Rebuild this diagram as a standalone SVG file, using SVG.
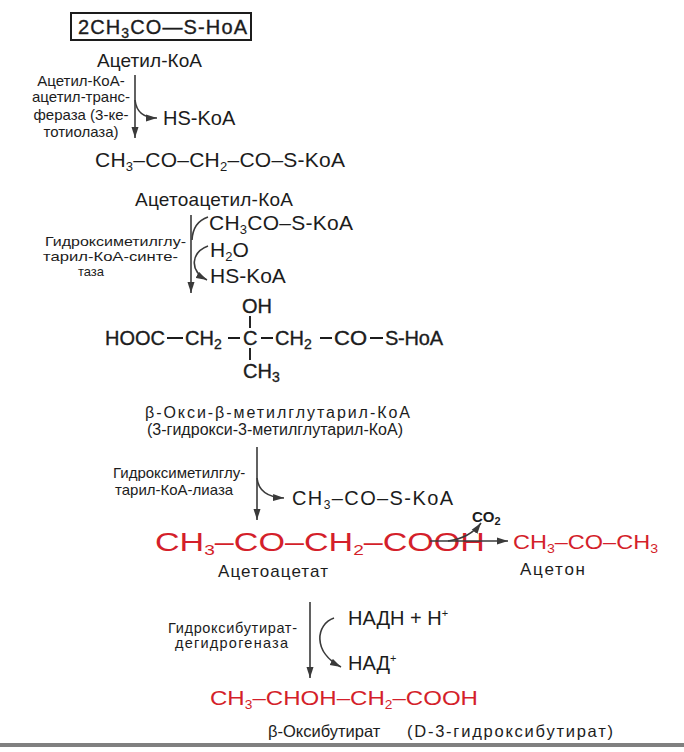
<svg xmlns="http://www.w3.org/2000/svg" width="684" height="752" viewBox="0 0 684 752">
<defs>
<style>
.t{font-family:"Liberation Sans",Arial,sans-serif;fill:#1c1c1c}
.r{fill:#d41f2b}
.th{stroke:#1c1c1c;stroke-width:0.35}
.ln{stroke:#3a3a3a;stroke-width:1.6;fill:none}
.bd{stroke:#1c1c1c;stroke-width:1.9;fill:none}
</style>
<marker id="ah" markerUnits="userSpaceOnUse" markerWidth="12" markerHeight="8" refX="11" refY="4" orient="auto">
<path d="M0,0.5 L11,4 L0,7.5 z" fill="#3a3a3a"/>
</marker>
</defs>
<rect width="684" height="752" fill="#ffffff"/>

<g id="acetyl-coa">
<rect x="71" y="13" width="180" height="27" fill="none" stroke="#1c1c1c" stroke-width="2"/>
<text class="t th" x="78" y="34" font-size="20" textLength="169">2CH<tspan font-size="14" dy="4">3</tspan><tspan dy="-4">CO—S-HoA</tspan></text>
<text class="t" x="97" y="67" font-size="19" textLength="105">Ацетил-КоА</text>
</g>

<g id="thiolase-label">
<text class="t" font-size="15" text-anchor="middle"><tspan x="81" y="86">Ацетил-КоА-</tspan><tspan x="81" y="102">ацетил-транс-</tspan><tspan x="81" y="120">фераза (3-ке-</tspan><tspan x="81" y="137">тотиолаза)</tspan></text>
</g>
<g id="hs-coa-1"><text class="t" x="163" y="125" font-size="20">HS-KoA</text></g>

<g id="acetoacetyl-coa">
<text class="t" x="95" y="167" font-size="21" textLength="250">CH<tspan font-size="13" dy="4">3</tspan><tspan dy="-4">–CO–CH</tspan><tspan font-size="13" dy="4">2</tspan><tspan dy="-4">–CO–S-KoA</tspan></text>
<text class="t" x="135" y="206" font-size="19" textLength="158">Ацетоацетил-КоА</text>
</g>

<g id="synthase-label">
<text class="t" font-size="13" lengthAdjust="spacingAndGlyphs"><tspan x="45" y="246" textLength="141" lengthAdjust="spacingAndGlyphs">Гидроксиметилглу-</tspan><tspan x="43" y="261" textLength="135" lengthAdjust="spacingAndGlyphs">тарил-КоА-синте-</tspan><tspan x="78" y="276" textLength="26">таза</tspan></text>
</g>
<g id="synthase-cosubstrates">
<text class="t" x="209" y="230" font-size="21" textLength="144">CH<tspan font-size="13" dy="4">3</tspan><tspan dy="-4">CO–S-KoA</tspan></text>
<text class="t" x="210" y="257" font-size="21">H<tspan font-size="13" dy="4">2</tspan><tspan dy="-4">O</tspan></text>
<text class="t" x="210" y="283" font-size="21">HS-KoA</text>
</g>

<g id="hmg-coa">
<text class="t th" x="242" y="313" font-size="20">OH</text>
<text class="t th" x="105" y="345" font-size="20">HOOC</text>
<text class="t th" x="185" y="345" font-size="20">CH<tspan font-size="14" dy="4">2</tspan></text>
<text class="t th" x="243" y="345" font-size="20">C</text>
<text class="t th" x="275" y="345" font-size="20">CH<tspan font-size="14" dy="4">2</tspan></text>
<text class="t th" x="334" y="345" font-size="20" textLength="33" lengthAdjust="spacingAndGlyphs">CO</text>
<text class="t th" x="385" y="345" font-size="20" textLength="58">S-HoA</text>
<text class="t th" x="243" y="378" font-size="20">CH<tspan font-size="14" dy="4">3</tspan></text>
<path class="bd" d="M167,338 H183 M228,338 H240 M261,338 H273 M320,338 H332 M370,338 H383 M250,316 V328 M250,348 V360"/>
<text class="t" x="145" y="418" font-size="16" textLength="265">β-Окси-β-метилглутарил-КоА</text>
<text class="t" x="147" y="435" font-size="16" textLength="256">(3-гидрокси-3-метилглутарил-КоА)</text>
</g>

<g id="lyase-label">
<text class="t" font-size="15"><tspan x="113" y="478">Гидроксиметилглу-</tspan><tspan x="115" y="495">тарил-КоА-лиаза</tspan></text>
</g>
<g id="acetyl-coa-2">
<text class="t" x="292" y="505" font-size="20" textLength="161">CH<tspan font-size="12" dy="4">3</tspan><tspan dy="-4">–CO–S-KoA</tspan></text>
</g>

<g id="acetoacetate">
<text class="t r" x="155" y="551" font-size="25" textLength="330" lengthAdjust="spacingAndGlyphs">CH<tspan font-size="14" dy="4">3</tspan><tspan dy="-4">–CO–CH</tspan><tspan font-size="14" dy="4">2</tspan><tspan dy="-4">–COOH</tspan></text>
<text class="t" x="218" y="577" font-size="17" textLength="110">Ацетоацетат</text>
</g>
<g id="co2"><text class="t" x="472" y="522" font-size="15" font-weight="bold">CO<tspan font-size="11" dy="3">2</tspan></text></g>
<g id="acetone">
<text class="t r" x="513" y="549" font-size="20" textLength="145" lengthAdjust="spacingAndGlyphs">CH<tspan font-size="12" dy="4">3</tspan><tspan dy="-4">–CO–CH</tspan><tspan font-size="12" dy="4">3</tspan></text>
<text class="t" x="520" y="575" font-size="17" textLength="65">Ацетон</text>
</g>

<g id="dehydrogenase-label">
<text class="t" font-size="14.5"><tspan x="168" y="633" textLength="129">Гидроксибутират-</tspan><tspan x="175" y="648" textLength="113">дегидрогеназа</tspan></text>
</g>
<g id="nadh">
<text class="t" x="348" y="625" font-size="20">НАДН + Н<tspan font-size="11" dy="-8">+</tspan></text>
<text class="t" x="348" y="670" font-size="20">НАД<tspan font-size="11" dy="-8">+</tspan></text>
</g>

<g id="hydroxybutyrate">
<text class="t r" x="210" y="705" font-size="21" textLength="268" lengthAdjust="spacingAndGlyphs">CH<tspan font-size="12" dy="4">3</tspan><tspan dy="-4">–CHOH–CH</tspan><tspan font-size="12" dy="4">2</tspan><tspan dy="-4">–COOH</tspan></text>
<text class="t" x="268" y="737" font-size="16.5">β-Оксибутират</text>
<text class="t" x="407" y="737" font-size="16.5" textLength="206">(D-3-гидроксибутират)</text>
</g>

<g id="connectors">
<path class="ln" d="M135,75 V138" marker-end="url(#ah)"/>
<path class="ln" d="M135,100 Q137,118 157,118" marker-end="url(#ah)"/>
<path class="ln" d="M191,215 V293" marker-end="url(#ah)"/>
<path class="ln" d="M208,217 Q193,222 192,240"/>
<path class="ln" d="M208,246 C192,252 188,270 207,280" marker-end="url(#ah)"/>
<path class="ln" d="M257,447 V520" marker-end="url(#ah)"/>
<path class="ln" d="M257,478 Q259,497 284,498" marker-end="url(#ah)"/>
<path class="ln" d="M430,541 H508" marker-end="url(#ah)"/>
<path class="ln" d="M448,541 Q470,538 481,523" marker-end="url(#ah)"/>
<path class="ln" d="M310,602 V678" marker-end="url(#ah)"/>
<path class="ln" d="M334,618 C316,624 312,652 341,667" marker-end="url(#ah)"/>
</g>

<rect x="0" y="743" width="684" height="4" fill="#808080"/>
</svg>
